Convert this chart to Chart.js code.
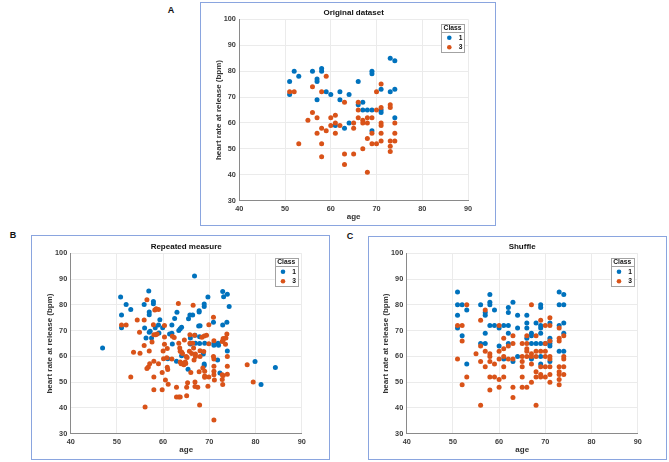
<!DOCTYPE html>
<html>
<head>
<meta charset="utf-8">
<script src="https://cdn.jsdelivr.net/npm/chart.js@4.4.1/dist/chart.umd.min.js"></script>
<style>
    body { margin: 0; width: 669px; height: 462px; overflow: hidden; position: relative; background: #fff; font-family: 'Liberation Sans', Arial, sans-serif; }
    .frame { position: absolute; border: 1px solid #8aa5df; box-sizing: border-box; }
    .tag { position: absolute; font-weight: bold; font-size: 9px; line-height: 1; color: #111; transform: translate(-50%, -50%); }
    canvas { position: absolute; }
</style>
</head>
<body>
<div class="frame" style="left:200px;top:2px;width:296px;height:224px"></div>
<div class="frame" style="left:31px;top:235px;width:299px;height:225px"></div>
<div class="frame" style="left:368px;top:236px;width:299px;height:224px"></div>
<div class="tag" style="left:171px;top:9.5px">A</div>
<div class="tag" style="left:13px;top:235px">B</div>
<div class="tag" style="left:350px;top:236px">C</div>
<canvas id="chartA"></canvas>
<canvas id="chartB"></canvas>
<canvas id="chartC"></canvas>
<script>
// Original dataset
const origAge1 = [51, 51, 52, 53, 56, 57, 57, 57, 58, 58, 59, 60, 62, 62, 61, 63, 64, 64, 66, 66, 67, 67, 68, 69, 69, 69, 69, 71, 71, 71, 73, 74, 73, 74, 74];
const origHr1  = [76, 71, 80, 78, 80, 77, 76, 69, 81, 80, 72, 71, 72, 69, 59, 58, 71, 60, 76, 67, 68, 65, 65, 65, 80, 79, 57, 73, 65, 64, 85, 84, 72, 73, 62];
const origAge3 = [51, 52, 53, 55, 56, 56, 57, 57, 58, 58, 58, 58, 59, 59, 60, 60, 61, 61, 61, 62, 63, 63, 63, 65, 65, 65, 66, 66, 66, 67, 67, 67,
                  68, 68, 68, 68, 69, 69, 69, 70, 70, 70, 71, 71, 71, 71, 71, 71, 73, 73, 73, 73, 73, 74, 74, 74];
const origHr3  = [72, 72, 52, 61, 74, 64, 62, 56, 72, 58, 52, 47, 78, 57, 62, 59, 63, 60, 56, 59, 68, 48, 44, 60, 58, 48, 68, 65, 62, 61, 60, 50,
                  62, 60, 54, 41, 62, 56, 52, 72, 65, 52, 75, 66, 60, 59, 56, 53, 67, 66, 53, 51, 49, 60, 56, 53];

// Repeated measure
const repAge1 = [46.9, 50.8, 51.0, 51.0, 52.0, 53.0, 55.9, 56.0, 56.3, 56.9, 57.0, 57.0, 57.0, 57.2, 57.5, 57.9, 57.9, 58.3, 59.0, 59.3, 59.1,
                 59.9, 61.0, 61.4, 61.9, 61.9, 62.0, 62.5, 63.0, 62.9, 63.4, 63.7, 64.0, 64.0, 65.4, 65.5, 65.8, 65.9, 65.9, 66.4, 66.8, 66.9,
                 67.0, 67.8, 67.8, 67.7, 68.0, 67.9, 67.9, 68.9, 68.9, 69.0, 68.9, 68.9, 68.7, 69.7, 70.9, 71.0, 71.0, 71.9, 72.0, 71.8, 72.3,
                 72.9, 73.1, 72.9, 73.9, 73.8, 73.9, 74.3, 79.9, 81.2, 84.3];
const repHr1  = [63.3, 83.0, 76.1, 71.1, 80.1, 78.2, 80.1, 71.0, 67.1, 85.4, 77.2, 76.2, 69.4, 69.8, 67.1, 81.3, 80.4, 71.1, 72.2, 74.2, 69.1,
                 71.1, 59.1, 68.7, 69.0, 72.2, 64.8, 74.7, 77.1, 58.1, 70.0, 70.7, 71.3, 60.2, 55.0, 74.6, 76.1, 64.8, 67.1, 76.1, 91.2, 68.2,
                 65.1, 77.7, 77.2, 71.8, 71.9, 67.6, 65.0, 80.3, 79.4, 65.1, 57.0, 56.5, 60.9, 83.0, 73.2, 65.1, 64.3, 65.1, 64.3, 58.6, 53.6,
                 85.2, 83.1, 72.2, 84.1, 73.2, 62.1, 79.4, 58.0, 49.1, 55.7];
const repAge3 = [51.0, 52.0, 53.0, 53.6, 54.4, 54.9, 55.0, 55.9, 55.9, 56.1, 56.5, 56.5, 56.8, 57.0, 57.1, 57.6, 57.9, 58.0, 58.0, 58.0, 58.0,
                 58.2, 58.4, 58.5, 58.7, 59.0, 59.0, 59.8, 59.8, 60.0, 60.1, 60.3, 60.3, 60.3, 60.5, 60.8, 60.9, 60.9, 61.0, 61.1, 61.9, 62.0,
                 62.4, 62.9, 62.9, 63.4, 63.7, 63.3, 63.4, 63.6, 63.7, 63.7, 63.9, 64.0, 64.2, 64.2, 64.5, 64.6, 64.8, 64.9, 65.0, 65.2, 65.1,
                 65.3, 65.1, 65.7, 65.8, 65.8, 66.4, 66.0, 66.2, 66.5, 66.6, 66.7, 66.8, 67.0, 67.0, 66.9, 66.9, 67.5, 67.8, 68.0, 68.0, 67.9,
                 68.4, 68.6, 68.8, 68.9, 69.0, 69.0, 69.0, 69.4, 69.7, 69.9, 69.9, 69.9, 70.9, 71.0, 70.9, 71.0, 71.0, 71.0, 71.0, 71.1, 71.0,
                 72.8, 73.0, 73.0, 72.8, 73.0, 72.8, 72.9, 73.5, 73.6, 73.8, 73.9, 73.9, 73.9, 78.2, 79.5];
const repHr3  = [72.2, 72.2, 52.0, 61.6, 74.1, 69.4, 61.2, 74.1, 64.2, 40.4, 82.0, 55.3, 55.9, 62.1, 57.1, 65.6, 72.3, 68.4, 58.1, 52.0, 47.1,
                 78.0, 68.4, 78.5, 68.7, 78.2, 57.1, 53.7, 47.1, 62.1, 59.1, 64.7, 72.0, 67.5, 50.8, 59.5, 63.1, 55.8, 54.9, 49.2, 59.0, 67.8,
                 67.3, 48.0, 44.2, 44.2, 44.2, 80.5, 65.1, 63.3, 62.0, 57.8, 57.1, 61.7, 61.1, 57.2, 56.8, 66.4, 57.8, 57.2, 60.0, 59.6, 48.0,
                 49.8, 44.7, 62.0, 68.4, 65.1, 65.1, 53.7, 61.1, 79.8, 63.3, 58.6, 68.2, 60.9, 60.0, 50.1, 48.3, 48.0, 54.0, 62.2, 60.0, 41.1,
                 67.4, 55.5, 61.9, 67.9, 54.2, 52.4, 51.9, 68.2, 48.4, 72.3, 64.9, 52.0, 75.2, 66.1, 60.0, 59.0, 56.2, 54.2, 52.9, 50.8, 35.3,
                 65.8, 66.9, 66.4, 52.9, 52.6, 51.0, 49.1, 64.7, 67.1, 68.7, 60.0, 56.2, 53.1, 56.8, 50.1];

// Shuffle
const shufAge1 = [51, 51, 52, 51, 51, 52, 53, 53, 56, 56, 57, 57, 57, 57, 58, 58, 58, 58, 59, 59, 60, 60, 61, 61, 62, 62, 62, 62, 62, 63, 63,
                  64, 64, 64, 66, 66, 66, 66, 67, 67, 67, 67, 68, 68, 69, 69, 69, 69, 69, 69, 69, 69, 70, 71, 71, 71, 71, 71, 71, 73, 73,
                  73, 73, 74, 74, 74, 74, 74];
const shufHr1  = [85, 80, 80, 76, 71, 68, 78, 57, 80, 65, 65, 69, 77, 76, 84, 81, 80, 72, 72, 78, 71, 64, 72, 59, 72, 79, 77, 69, 65, 81, 58,
                  76, 71, 60, 76, 73, 71, 67, 69, 68, 65, 59, 73, 65, 80, 79, 72, 71, 69, 65, 60, 57, 65, 73, 67, 66, 65, 64, 58, 85, 80,
                  72, 62, 84, 80, 73, 69, 62];
const shufAge3 = [51, 52, 51, 52, 52, 53, 53, 55, 56, 56, 56, 56, 57, 57, 57, 58, 58, 58, 58, 58, 59, 59, 60, 60, 60, 60, 60, 61, 61, 61, 61,
                  61, 62, 62, 63, 63, 63, 63, 63, 65, 65, 65, 65, 65, 65, 66, 66, 66, 66, 66, 66, 67, 67, 67, 67, 67, 68, 68, 68, 68, 68,
                  68, 69, 69, 69, 69, 69, 70, 70, 70, 70, 70, 70, 71, 71, 71, 71, 71, 71, 71, 71, 73, 73, 73, 73, 73, 73, 73, 73, 74, 74,
                  74, 74, 74];
const shufHr3  = [72, 72, 59, 66, 49, 80, 52, 61, 74, 64, 58, 41, 78, 62, 56, 61, 60, 58, 52, 47, 57, 52, 72, 62, 59, 51, 48, 67, 63, 60, 56,
                  52, 64, 59, 68, 65, 59, 48, 44, 65, 60, 58, 56, 52, 48, 68, 65, 63, 62, 60, 48, 80, 61, 60, 57, 50, 68, 62, 60, 54, 52,
                  41, 74, 62, 56, 53, 52, 72, 65, 62, 60, 56, 52, 75, 72, 66, 60, 59, 56, 53, 50, 71, 67, 66, 56, 54, 53, 51, 49, 68, 60,
                  59, 56, 53];

const classLabels = ['1', '3'];
const xTicks = [40, 50, 60, 70, 80, 90];
const yTicks = [30, 40, 50, 60, 70, 80, 90, 100];

const BLUE = '#0072BD';
const ORANGE = '#D95319';
Chart.defaults.font.family = "'Liberation Sans', Arial, sans-serif";

// legend box in the top right corner of the plot, with a "Class" heading
const classLegend = {
    id: 'classLegend',
    afterDraw(chart) {
        const { ctx, chartArea } = chart;
        const w = 23, h = 28;
        const x = chartArea.right - 4 - w;
        const y = chartArea.top + 4.5;
        ctx.save();
        ctx.fillStyle = '#fff';
        ctx.fillRect(x, y, w, h);
        ctx.strokeStyle = '#a3a3a3';
        ctx.lineWidth = 1;
        ctx.strokeRect(Math.round(x) + 0.5, Math.round(y) + 0.5, w, h);
        ctx.beginPath();
        ctx.moveTo(Math.round(x), Math.round(y + 8) + 0.5);
        ctx.lineTo(Math.round(x) + w, Math.round(y + 8) + 0.5);
        ctx.stroke();
        ctx.font = "bold 6.7px 'Liberation Sans', Arial, sans-serif";
        ctx.textAlign = 'center';
        ctx.textBaseline = 'middle';
        ctx.fillStyle = '#111';
        ctx.fillText('Class', x + w / 2, y + 4.3);
        chart.data.datasets.forEach((ds, i) => {
            const cy = y + 14 + i * 9.4;
            ctx.fillStyle = ds.backgroundColor;
            ctx.beginPath();
            ctx.arc(x + 8.3, cy, 2.3, 0, Math.PI * 2);
            ctx.fill();
            ctx.fillStyle = '#111';
            ctx.fillText(ds.label, x + 19.5, cy + 0.3);
        });
        ctx.restore();
    }
};

function toPoints(ages, rates) {
    return ages.map((a, i) => ({ x: a, y: rates[i] }));
}

function drawPanel(id, titleText, area, age1, hr1, age3, hr3) {
    const canvas = document.getElementById(id);
    const left = Math.floor(area.left - 42);
    const top = Math.floor(area.top - 14);
    const width = Math.ceil(area.right + 28) - left;
    const height = Math.ceil(area.bottom + 27) - top;
    canvas.style.left = left + 'px';
    canvas.style.top = top + 'px';
    canvas.width = width;
    canvas.height = height;
    const titleSpace = area.top - top;

    return new Chart(canvas, {
        type: 'scatter',
        data: {
            datasets: [
                { label: classLabels[0], data: toPoints(age1, hr1), backgroundColor: BLUE, order: 1 },
                { label: classLabels[1], data: toPoints(age3, hr3), backgroundColor: ORANGE, order: 0 }
            ]
        },
        options: {
            responsive: false,
            animation: false,
            events: [],
            elements: { point: { radius: 2.5, borderWidth: 0 } },
            layout: {
                padding: {
                    left: area.left - 40 - left,
                    top: 0,
                    right: left + width - area.right,
                    bottom: top + height - area.bottom - 27
                }
            },
            plugins: {
                legend: { display: false },
                tooltip: { enabled: false },
                title: {
                    display: true,
                    text: titleText,
                    fullSize: false,
                    color: '#111',
                    font: { size: 8, weight: 'bold', lineHeight: 1 },
                    padding: { top: titleSpace - 10.3, bottom: 2.3 }
                }
            },
            scales: {
                x: {
                    min: 40,
                    max: 90,
                    afterBuildTicks: s => { s.ticks = xTicks.map(v => ({ value: v })); },
                    afterFit: s => { s.height = 27; },
                    grid: { color: '#ebebeb', drawTicks: false },
                    border: { color: '#8a8a8a' },
                    ticks: { padding: 4.2, color: '#3c3c3c', font: { size: 7.3, weight: 'bold', lineHeight: 1.2 } },
                    title: {
                        display: true,
                        text: 'age',
                        color: '#333',
                        font: { size: 8, weight: 'bold', lineHeight: 1.2 },
                        padding: { top: 0, bottom: 5.7 }
                    }
                },
                y: {
                    min: 30,
                    max: 100,
                    afterBuildTicks: s => { s.ticks = yTicks.map(v => ({ value: v })); },
                    afterFit: s => { s.width = 40; },
                    grid: { color: '#ebebeb', drawTicks: false },
                    border: { color: '#8a8a8a' },
                    ticks: { padding: 3.5, color: '#3c3c3c', font: { size: 7.3, weight: 'bold', lineHeight: 1.2 } },
                    title: {
                        display: true,
                        text: 'heart rate at release (bpm)',
                        color: '#333',
                        font: { size: 8, weight: 'bold', lineHeight: 1.2 },
                        padding: { top: 14.2, bottom: 0 }
                    }
                }
            }
        },
        plugins: [classLegend]
    });
}

drawPanel('chartA', 'Original dataset', { left: 239.3, top: 19.3, right: 468, bottom: 200.7 },
    origAge1, origHr1, origAge3, origHr3);
drawPanel('chartB', 'Repeated measure', { left: 70.7, top: 253.3, right: 301.7, bottom: 433.7 },
    repAge1, repHr1, repAge3, repHr3);
drawPanel('chartC', 'Shuffle', { left: 406.7, top: 253.3, right: 637.7, bottom: 433.7 },
    shufAge1, shufHr1, shufAge3, shufHr3);
</script>
</body>
</html>
